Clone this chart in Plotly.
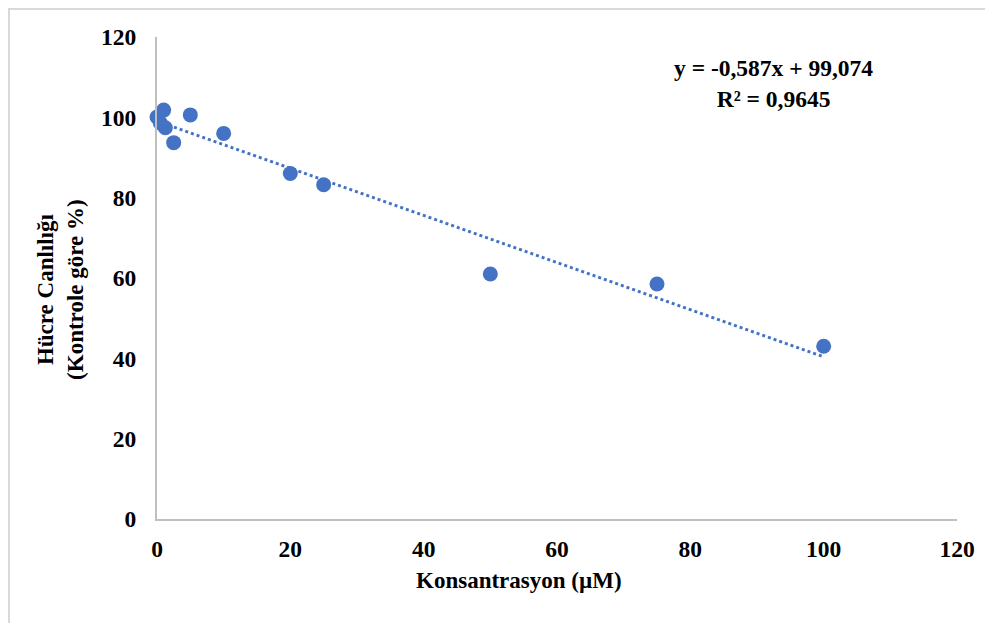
import plotly.graph_objects as go

# Data
concentration = [0, 0.5, 1, 1.25, 2.5, 5, 10, 20, 25, 50, 75, 100]
viability = [100.1, 98.6, 101.8, 97.4, 93.7, 100.6, 96.0, 86.0, 83.2, 61.0, 58.5, 43.0]

# Trendline coefficients as shown on the chart
slope = -0.587
intercept = 99.074
r_squared = 0.9645

x_ticks = [0, 20, 40, 60, 80, 100, 120]
y_ticks = [0, 20, 40, 60, 80, 100, 120]

x_title = "Konsantrasyon (µM)"
y_title = "Hücre Canlılığı<br>(Kontrole göre %)"

blue = "#4472C4"
axis_gray = "#BFBFBF"
font_family = "Liberation Serif"

trend_x = [min(concentration), max(concentration)]
trend_y = [slope * v + intercept for v in trend_x]

fig = go.Figure()
fig.add_trace(go.Scatter(
    x=trend_x, y=trend_y, mode="lines",
    line=dict(color=blue, width=3, dash="dot"),
    hoverinfo="skip", showlegend=False, cliponaxis=False,
))
fig.add_trace(go.Scatter(
    x=concentration, y=viability, mode="markers",
    marker=dict(color=blue, size=15, line=dict(width=0)),
    showlegend=False, cliponaxis=False,
))

eq_text = ("<b>" + f"y = {slope:.3f}x + {intercept:.3f}".replace(".", ",")
           + "<br>" + f"R² = {r_squared:.4f}".replace(".", ",") + "</b>")

fig.add_annotation(
    x=92.5, y=108.4, xref="x", yref="y", text=eq_text, showarrow=False,
    font=dict(family=font_family, size=23.5, color="black"), align="center",
)

# axis titles (positioned as in the reference, slightly off-centre)
fig.add_annotation(
    x=0.4525, y=-0.1286, xref="paper", yref="paper", text=f"<b>{x_title}</b>",
    showarrow=False, xanchor="center", yanchor="middle",
    font=dict(family=font_family, size=23, color="black"),
)
fig.add_annotation(
    x=-0.1215, y=0.477, xref="paper", yref="paper", text=f"<b>{y_title}</b>",
    showarrow=False, xanchor="center", yanchor="middle", textangle=-90,
    font=dict(family=font_family, size=23, color="black"),
)

# outer frame (only top and left edges visible in reference)
fig.add_shape(type="rect", xref="paper", yref="paper",
              x0=-0.185, x1=1.2, y0=-0.4, y1=1.058,
              line=dict(color="#D9D9D9", width=2), layer="below")

fig.update_layout(
    width=993, height=623,
    margin=dict(l=149, r=44, t=29, b=112),
    paper_bgcolor="white", plot_bgcolor="white",
    font=dict(family=font_family, size=23, color="black"),
    xaxis=dict(
        range=[0, 120], tickvals=x_ticks, ticktext=[f"<b>{t}</b>" for t in x_ticks],
        showgrid=False, zeroline=False, showline=True, linecolor=axis_gray, linewidth=2,
        ticks="outside", ticklen=8, tickcolor="rgba(0,0,0,0)",
        tickfont=dict(family=font_family, size=23.5, color="black"),
    ),
    yaxis=dict(
        range=[0, 120], tickvals=y_ticks, ticktext=[f"<b>{t}</b>" for t in y_ticks],
        showgrid=False, zeroline=False, showline=True, linecolor=axis_gray, linewidth=2,
        ticks="outside", ticklen=14, tickcolor="rgba(0,0,0,0)",
        tickfont=dict(family=font_family, size=23.5, color="black"),
    ),
)

fig.write_html("out.html")
